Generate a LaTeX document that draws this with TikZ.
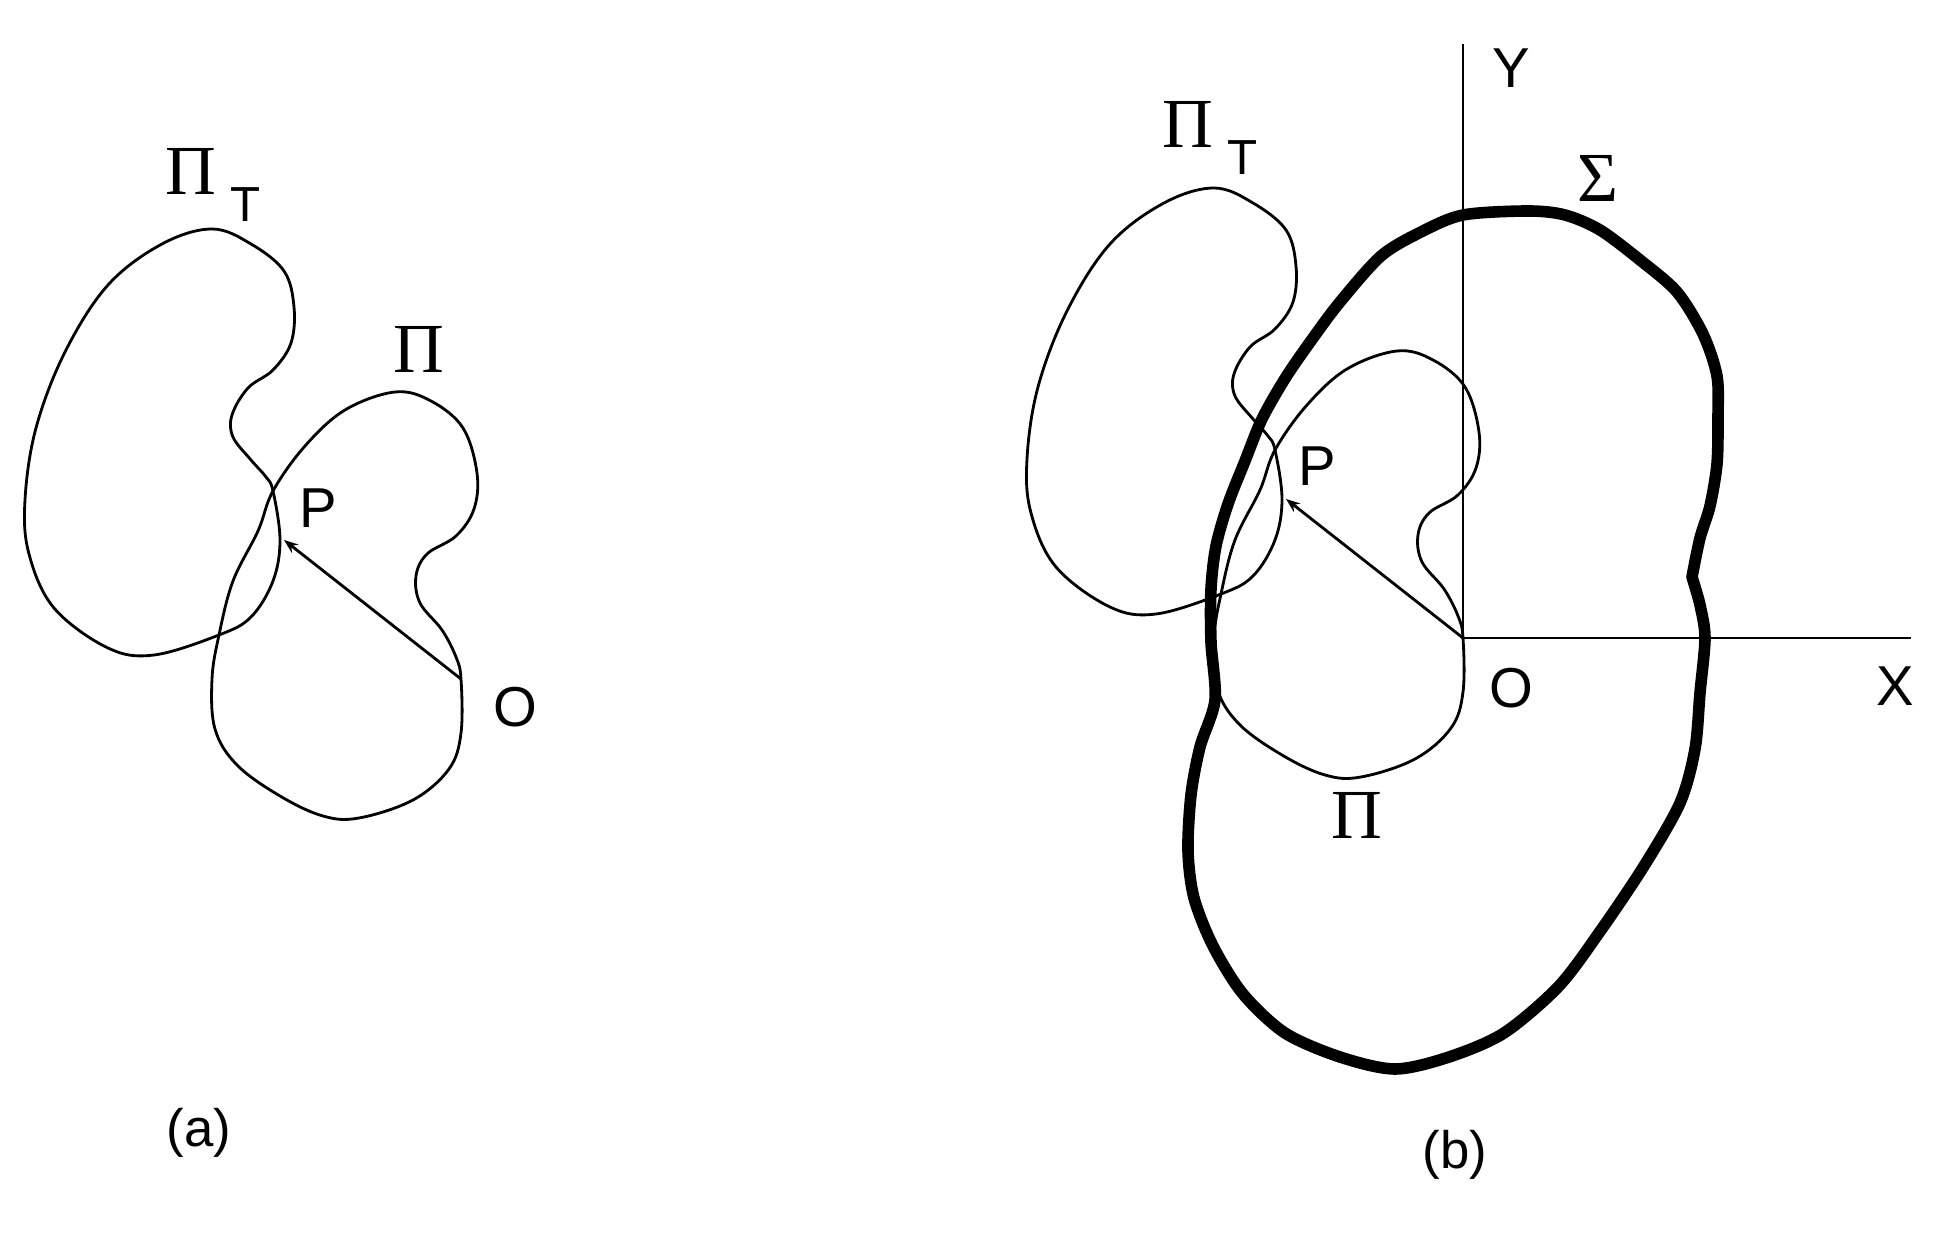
\documentclass[tikz,border=0pt]{standalone}
\usepackage{fontspec}
\setmainfont{Liberation Sans}
\newfontfamily\grkfont{Liberation Serif}
\usetikzlibrary{arrows.meta}
\newcommand{\drawPiCurve}{%
  \draw[curve] plot[smooth cycle, tension=0.6] coordinates {
    (273,491) (305,446) (345,410) (395,392) (431,401) (463,428) (477,473)
    (474,509) (456,536) (427,554) (416,576) (420,603) (442,630) (456,657)
    (461,679) (461,733) (449,769) (413,800) (359,818) (323,816) (280,796)
    (237,765) (215,729) (212,679) (219,635) (233,581) (258,531)};}
\newcommand{\drawPiTCurve}{%
  \draw[curve] plot[smooth cycle, tension=0.6] coordinates {
    (273,491) (280,540) (273,581) (251,617) (219,635) (154,655) (108,648)
    (54,608) (29,554) (25,500) (36,428) (65,352) (108,285) (162,244)
    (212,229) (251,244) (284,271) (294,307) (291,343) (273,370) (248,388)
    (232,415) (233,437) (251,460) (266,477)};}
\tikzset{
  curve/.style={line width=0.8pt, line join=round},
  boldcurve/.style={line width=3.3pt, line join=round, line cap=round},
  axisline/.style={line width=0.8pt},
  vec/.style={line width=0.8pt, -{Stealth[length=4pt,width=3pt]}},
  lbl/.style={inner sep=0pt, font=\fontsize{16pt}{19pt}\selectfont},
  glbl/.style={inner sep=0pt, font=\grkfont\fontsize{20pt}{24pt}\selectfont},
  caption/.style={inner sep=0pt, font=\fontsize{15pt}{18pt}\selectfont},
  pitlbl/.style={inner sep=0pt, anchor=base west},
}
\newcommand{\PiT}{{\grkfont\fontsize{20pt}{24pt}\selectfont Π}\hspace{4pt}\raisebox{-7.5pt}{\fontsize{14pt}{17pt}\selectfont T}}
\begin{document}
\begin{tikzpicture}[x=0.01cm, y=-0.01cm]
\useasboundingbox (0,0) rectangle (1947,1240);
% ---------- (a) ----------
\drawPiTCurve
\drawPiCurve
\coordinate (Oa) at (461,679);
\coordinate (Pa) at (284,540);
\draw[vec] (Oa) -- (Pa);
\node[pitlbl] (PiTa) at (165,195) {\PiT};
\node[glbl] (Pia) at (419,349) {Π};
\node[lbl] (PlabA) at (318,508) {P};
\node[lbl] (OlabA) at (515,707) {O};
\node[caption] (capA) at (199,1133) {(a)};
% ---------- (b) ----------
\begin{scope}[shift={(1002,-41)}]
  \drawPiTCurve
  \drawPiCurve
\end{scope}
\coordinate (Ob) at (1463,638);
\coordinate (Pb) at (1286,499);
\coordinate (Ytop) at (1463,44);
\coordinate (Xend) at (1911,638);
\draw[axisline] (Ob) -- (Ytop);
\draw[axisline] (Ob) -- (Xend);
\draw[vec] (Ob) -- (Pb);
\draw[boldcurve] plot[smooth, tension=0.5] coordinates {
  (1692,577) (1700,538) (1710,506) (1717,464) (1718,418) (1717,376) (1703,334)
  (1677,292) (1640,260) (1600,230) (1565,215) (1528,211) (1463,215) (1421,232)
  (1381,256) (1340,302) (1313,338) (1286,377) (1262,419) (1245,461) (1228,504)
  (1216,546) (1211,589) (1211,642) (1215,700) (1200,747) (1191,795) (1188,851)
  (1194,898) (1213,946) (1243,994) (1285,1033) (1340,1057) (1395,1069)
  (1449,1057) (1504,1033) (1559,986) (1601,930) (1644,866) (1680,803)
  (1695,749) (1700,693) (1705,638) (1700,605) (1692,577)};
\node[pitlbl] (PiTb) at (1162,148) {\PiT};
\node[glbl] (Sigb) at (1598,178) {Σ};
\node[lbl] (Ylab) at (1511,68) {Y};
\node[lbl] (PlabB) at (1317,466) {P};
\node[lbl] (OlabB) at (1511,688) {O};
\node[lbl] (Xlab) at (1895,686) {X};
\node[glbl] (Pib) at (1357,815) {Π};
\node[caption] (capB) at (1455,1155) {(b)};
\end{tikzpicture}
\end{document}
